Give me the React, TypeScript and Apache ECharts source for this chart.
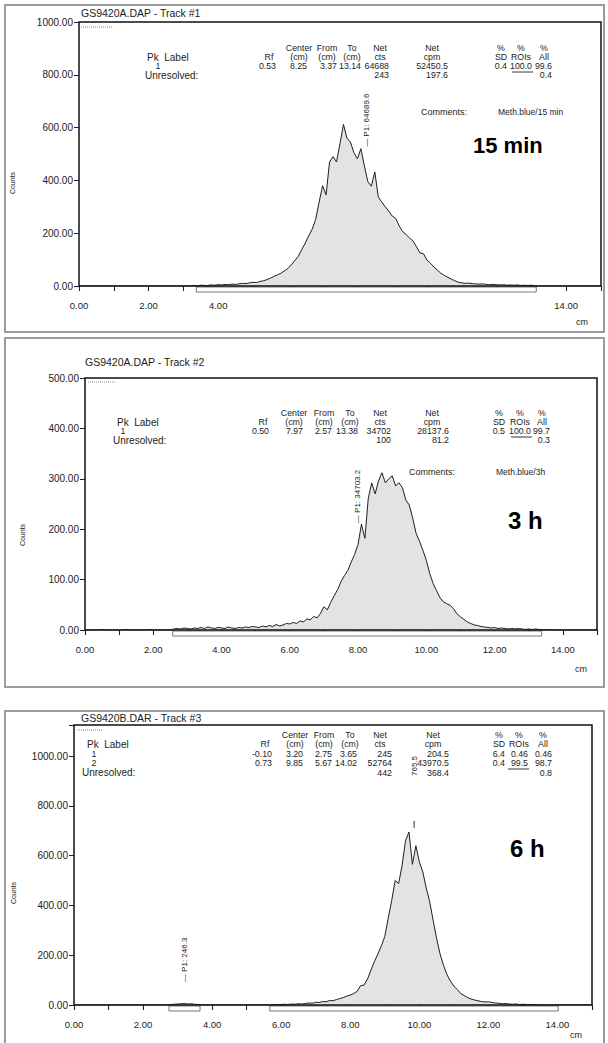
import React, { useEffect, useRef } from "react";
import * as echarts from "echarts";

const FONT = '"Liberation Sans", Arial, Helvetica, sans-serif';
const BIN_STEP_CM = 0.1;

// Counts per 0.1 cm bin, 0.0 ... 15.0 cm
const counts15min = [
  0, 0, 0, 0, 0, 0, 0, 0, 0, 0, // 0.0
  0, 0, 0, 0, 0, 0, 0, 0, 0, 0, // 1.0
  0, 0, 0, 0, 0, 0, 0, 0, 0, 0, // 2.0
  0, 0, 0, 2, 1, 3, 2, 2, 4, 3, // 3.0
  5, 4, 6, 5, 7, 6, 8, 10, 9, 12, // 4.0
  14, 13, 17, 20, 24, 30, 36, 42, 48, 57, // 5.0
  66, 80, 96, 112, 138, 162, 190, 215, 252, 318, // 6.0
  380, 345, 470, 490, 470, 540, 612, 560, 545, 505, // 7.0
  482, 520, 455, 395, 378, 432, 338, 318, 300, 284, // 8.0
  265, 256, 228, 206, 195, 182, 170, 148, 125, 122, // 9.0
  98, 86, 72, 60, 48, 40, 33, 26, 20, 14, // 10.0
  12, 10, 11, 9, 8, 7, 8, 6, 5, 6, // 11.0
  5, 4, 5, 3, 4, 3, 4, 2, 3, 2, // 12.0
  3, 1, 0, 0, 0, 0, 0, 0, 0, 0, // 13.0
  0, 0, 0, 0, 0, 0, 0, 0, 0, 0, // 14.0
  0,
];

const counts3h = [
  0, 0, 0, 0, 0, 1, 0, 0, 0, 0, // 0.0
  0, 0, 1, 0, 0, 0, 0, 0, 0, 1, // 1.0
  0, 0, 0, 0, 0, 0, 2, 3, 2, 4, // 2.0
  3, 2, 4, 3, 5, 3, 6, 4, 3, 5, // 3.0
  4, 3, 6, 4, 3, 5, 4, 6, 5, 7, // 4.0
  6, 5, 8, 6, 9, 7, 11, 8, 10, 13, // 5.0
  12, 15, 13, 18, 16, 22, 20, 27, 24, 33, // 6.0
  46, 40, 55, 68, 80, 96, 108, 118, 135, 150, // 7.0
  170, 210, 182, 262, 292, 270, 296, 312, 292, 300, // 8.0
  306, 286, 292, 282, 258, 248, 222, 192, 176, 158, // 9.0
  138, 112, 92, 78, 64, 56, 52, 49, 42, 32, // 10.0
  26, 21, 16, 13, 10, 9, 7, 6, 5, 4, // 11.0
  5, 3, 4, 3, 2, 3, 2, 3, 2, 1, // 12.0
  2, 1, 2, 1, 1, 0, 1, 0, 0, 0, // 13.0
  0, 0, 0, 0, 0, 0, 0, 0, 0, 0, // 14.0
  0,
];

const counts6h = [
  0, 0, 0, 0, 0, 0, 0, 0, 0, 0, // 0.0
  0, 0, 0, 0, 0, 0, 0, 0, 0, 0, // 1.0
  0, 0, 0, 0, 0, 0, 0, 0, 2, 3, // 2.0
  4, 5, 6, 4, 5, 3, 2, 0, 0, 0, // 3.0
  0, 0, 0, 0, 0, 0, 0, 0, 0, 0, // 4.0
  0, 0, 0, 0, 0, 0, 0, 1, 2, 1, // 5.0
  2, 3, 2, 4, 3, 5, 4, 6, 8, 7, // 6.0
  11, 10, 14, 13, 18, 17, 22, 26, 30, 36, // 7.0
  40, 46, 55, 78, 80, 105, 140, 175, 205, 238, // 8.0
  275, 350, 420, 500, 488, 560, 660, 695, 565, 640, // 9.0
  575, 535, 470, 415, 340, 268, 205, 160, 122, 96, // 10.0
  76, 62, 46, 38, 30, 24, 20, 17, 14, 12, // 11.0
  13, 10, 8, 7, 5, 6, 4, 3, 4, 2, // 12.0
  3, 2, 1, 2, 1, 0, 0, 0, 0, 0, // 13.0
  0, 0, 0, 0, 0, 0, 0, 0, 0, 0, // 14.0
  0,
];

const xLabels15min = [0, 2, 4, 14];
const xLabelsAll = [0, 2, 4, 6, 8, 10, 12, 14];

// Regions of interest (from, to) in cm
const roi15min = [[3.37, 13.14]];
const roi3h = [[2.57, 13.38]];
const roi6h = [[2.75, 3.65], [5.67, 14.02]];

// Peak annotations: centre (cm), anchor count, text
const peakX15min = [8.25];
const peakAnchor15min = [527];
const peakText15min = ["— P1: 64689.6"];
const peakX3h = [7.97];
const peakAnchor3h = [212];
const peakText3h = ["— P1: 34703.2"];
const peakX6h = [3.2, 9.85];
const peakAnchor6h = [92, 920];
const peakText6h = ["— P1: 246.3", "765.5"];

// Table content
const headTop = ["", "Center", "From", "To", "Net", "Net", "%", "%", "%"];
const headBottom = ["Rf", "(cm)", "(cm)", "(cm)", "cts", "cpm", "SD", "ROIs", "All"];
const rows15min = [["1", "0.53", "8.25", "3.37", "13.14", "64688", "52450.5", "0.4", "100.0", "99.6"]];
const unres15min = ["243", "197.6", "0.4"];
const rows3h = [["1", "0.50", "7.97", "2.57", "13.38", "34702", "28137.6", "0.5", "100.0", "99.7"]];
const unres3h = ["100", "81.2", "0.3"];
const rows6h = [
  ["1", "-0.10", "3.20", "2.75", "3.65", "245", "204.5", "6.4", "0.46", "0.46"],
  ["2", "0.73", "9.85", "5.67", "14.02", "52764", "43970.5", "0.4", "99.5", "98.7"],
];
const unres6h = ["442", "368.4", "0.8"];

const panels = [
  {
    counts: counts15min, xLabels: xLabels15min, roi: roi15min,
    peakX: peakX15min, peakAnchor: peakAnchor15min, peakText: peakText15min, peakTick: false,
    rows: rows15min, unres: unres15min, underlineRow: 0,
    title: "GS9420A.DAP - Track #1", comment: "Meth.blue/15 min", big: "15 min",
    grid: { left: 79, top: 22, width: 522, height: 264 },
    yMax: 1000, yInt: 200, yLabelMax: 1000,
    frame: [5, 5, 599, 327],
    titleXY: [81, 13], marker: [81, 27, 112], countsXY: [12, 183], cmXY: [576, 322],
    rowY: [48, 57, 66], unresY: 75, pkX: 147, idX: 158, unresX: 145,
    colC: [269, 299, 327, 352, 380, 432, 501, 521, 544],
    colR: [276, 307, 337, 361, 389, 448, 507, 532, 552],
    commentXY: [421, 112, 498], bigXY: [473, 145], bigSize: 22,
  },
  {
    counts: counts3h, xLabels: xLabelsAll, roi: roi3h,
    peakX: peakX3h, peakAnchor: peakAnchor3h, peakText: peakText3h, peakTick: false,
    rows: rows3h, unres: unres3h, underlineRow: 0,
    title: "GS9420A.DAP - Track #2", comment: "Meth.blue/3h", big: "3 h",
    grid: { left: 85, top: 378, width: 512, height: 252 },
    yMax: 500, yInt: 100, yLabelMax: 500,
    frame: [5, 338, 599, 349],
    titleXY: [85, 362], marker: [88, 382, 115], countsXY: [22, 535], cmXY: [575, 669],
    rowY: [413, 422, 431], unresY: 440, pkX: 117, idX: 123, unresX: 113,
    colC: [263, 294, 324, 350, 380, 432, 499, 520, 542],
    colR: [269, 303, 332, 358, 391, 449, 505, 531, 550],
    commentXY: [409, 472, 496], bigXY: [508, 520], bigSize: 24,
  },
  {
    counts: counts6h, xLabels: xLabelsAll, roi: roi6h,
    peakX: peakX6h, peakAnchor: peakAnchor6h, peakText: peakText6h, peakTick: true,
    rows: rows6h, unres: unres6h, underlineRow: 1,
    title: "GS9420B.DAR - Track #3", comment: "", big: "6 h",
    grid: { left: 74, top: 725, width: 518, height: 280 },
    yMax: 1125, yInt: 200, yLabelMax: 1000,
    frame: [5, 711, 599, 340],
    titleXY: [81, 718], marker: [77, 730, 103], countsXY: [13, 893], cmXY: [570, 1035],
    rowY: [735, 744, 753.5, 763], unresY: 772.5, pkX: 87, idX: 94, unresX: 82,
    colC: [265, 295, 324, 350, 380, 433, 499, 519, 543],
    colR: [272, 303, 332, 357, 392, 449, 505, 528, 552],
    commentXY: null, bigXY: [510, 848], bigSize: 24,
  },
];

function txt(x: number, y: number, t: string, o: any = {}) {
  return {
    type: "text",
    x,
    y,
    silent: true,
    z: 50,
    rotation: o.rot || 0,
    style: {
      text: t,
      fill: o.color || "#1c1c1c",
      fontSize: o.size || 8.8,
      fontFamily: FONT,
      fontWeight: o.bold ? "bold" : "normal",
      align: o.align || "left",
      verticalAlign: "middle",
    },
  };
}

function buildOption() {
  const grid: any[] = [];
  const xAxis: any[] = [];
  const yAxis: any[] = [];
  const series: any[] = [];
  const graphic: any[] = [];

  panels.forEach((p, i) => {
    grid.push({ ...p.grid, show: false });
    xAxis.push({
      type: "value",
      gridIndex: i,
      min: 0,
      max: 15,
      interval: 1,
      offset: 5,
      axisLine: { show: false },
      axisTick: { show: true, length: 5, lineStyle: { color: "#222", width: 1.1 } },
      splitLine: { show: false },
      axisLabel: {
        margin: 9,
        fontSize: 9.5,
        color: "#1c1c1c",
        fontFamily: FONT,
        formatter: (v: number) => (p.xLabels.includes(v) ? v.toFixed(2) : ""),
      },
    });
    yAxis.push({
      type: "value",
      gridIndex: i,
      min: 0,
      max: p.yMax,
      interval: p.yInt,
      axisLine: { show: false },
      axisTick: { show: true, length: 5, lineStyle: { color: "#222", width: 1 } },
      splitLine: { show: false },
      axisLabel: {
        margin: 6,
        fontSize: 10,
        color: "#1c1c1c",
        fontFamily: FONT,
        verticalAlign: "middle",
        formatter: (v: number) => (v % p.yInt === 0 && v <= p.yLabelMax ? v.toFixed(2) : ""),
      },
    });
    series.push({
      type: "line",
      xAxisIndex: i,
      yAxisIndex: i,
      data: p.counts.map((c, j) => [+(j * BIN_STEP_CM).toFixed(1), c]),
      showSymbol: false,
      symbol: "none",
      silent: true,
      z: 2,
      lineStyle: { color: "#1e1e1e", width: 1 },
      areaStyle: { color: "#e3e3e3", opacity: 1 },
    });
    series.push({
      type: "custom",
      xAxisIndex: i,
      yAxisIndex: i,
      clip: false,
      silent: true,
      z: 3,
      data: p.roi,
      encode: { x: [0, 1] },
      renderItem: (_params: any, api: any) => {
        const a = api.coord([api.value(0), 0]);
        const b = api.coord([api.value(1), 0]);
        return {
          type: "rect",
          shape: { x: a[0], y: a[1] + 1, width: b[0] - a[0], height: 5 },
          style: { fill: "#fff", stroke: "#555", lineWidth: 0.8 },
        };
      },
    });
    series.push({
      type: "custom",
      xAxisIndex: i,
      yAxisIndex: i,
      clip: false,
      silent: true,
      z: 4,
      data: p.peakX.map((x, k) => [x, p.peakAnchor[k]]),
      renderItem: (params: any, api: any) => {
        const pt = api.coord([api.value(0), api.value(1)]);
        const k = params.dataIndex;
        const children: any[] = [
          {
            type: "text",
            x: pt[0],
            y: pt[1],
            rotation: Math.PI / 2,
            style: {
              text: p.peakText[k],
              fill: "#1c1c1c",
              fontSize: 8,
              fontFamily: FONT,
              align: "left",
              verticalAlign: "middle",
            },
          },
        ];
        if (p.peakTick && k === 1) {
          const t0 = api.coord([api.value(0), 712]);
          const t1 = api.coord([api.value(0), 740]);
          children.push({
            type: "line",
            shape: { x1: t0[0], y1: t0[1], x2: t1[0], y2: t1[1] },
            style: { stroke: "#333", lineWidth: 1 },
          });
        }
        return { type: "group", children };
      },
    });

    // panel frame
    graphic.push({
      type: "rect",
      silent: true,
      z: 1,
      shape: { x: p.frame[0], y: p.frame[1], width: p.frame[2], height: p.frame[3] },
      style: { fill: "none", stroke: "#9c9c9c", lineWidth: 2 },
    });
    // plot frame
    graphic.push({
      type: "rect",
      silent: true,
      z: 60,
      shape: { x: p.grid.left, y: p.grid.top, width: p.grid.width, height: p.grid.height },
      style: { fill: "none", stroke: "#111", lineWidth: 1.5 },
    });
    // dotted marker
    graphic.push({
      type: "line",
      silent: true,
      z: 55,
      shape: { x1: p.marker[0], y1: p.marker[1], x2: p.marker[2], y2: p.marker[1] },
      style: { stroke: "#8a8a8a", lineWidth: 1, lineDash: [1, 1] },
    });
    graphic.push(txt(p.titleXY[0], p.titleXY[1], p.title, { size: 10.5 }));
    graphic.push(txt(p.countsXY[0], p.countsXY[1], "Counts", { size: 7, rot: Math.PI / 2, align: "center" }));
    graphic.push(txt(p.cmXY[0], p.cmXY[1], "cm", { size: 9 }));

    // table
    headTop.forEach((h, c) => {
      if (h) graphic.push(txt(p.colC[c], p.rowY[0], h, { align: "center" }));
    });
    graphic.push(txt(p.pkX, p.rowY[1], "Pk  Label", { size: 10 }));
    headBottom.forEach((h, c) => {
      graphic.push(txt(p.colC[c], p.rowY[1], h, { align: "center" }));
    });
    p.rows.forEach((r, ri) => {
      const y = p.rowY[2 + ri];
      graphic.push(txt(p.idX, y, r[0], { align: "center", size: 8.8 }));
      r.slice(1).forEach((v, c) => {
        graphic.push(txt(p.colR[c], y, v, { align: "right" }));
      });
      if (ri === p.underlineRow) {
        graphic.push({
          type: "line",
          silent: true,
          z: 55,
          shape: { x1: p.colR[7] - 20, y1: y + 6, x2: p.colR[7] + 1, y2: y + 6 },
          style: { stroke: "#222", lineWidth: 0.9 },
        });
      }
    });
    graphic.push(txt(p.unresX, p.unresY, "Unresolved:", { size: 10 }));
    graphic.push(txt(p.colR[4], p.unresY, p.unres[0], { align: "right" }));
    graphic.push(txt(p.colR[5], p.unresY, p.unres[1], { align: "right" }));
    graphic.push(txt(p.colR[8], p.unresY, p.unres[2], { align: "right" }));

    if (p.commentXY) {
      graphic.push(txt(p.commentXY[0], p.commentXY[1], "Comments:", { size: 9 }));
      graphic.push(txt(p.commentXY[2], p.commentXY[1], p.comment, { size: 8.5 }));
    }
    graphic.push(txt(p.bigXY[0], p.bigXY[1], p.big, { size: p.bigSize, bold: true, color: "#000" }));
  });

  return {
    animation: false,
    backgroundColor: "#ffffff",
    grid,
    xAxis,
    yAxis,
    series,
    graphic,
  };
}

export default function App() {
  const ref = useRef<HTMLDivElement>(null);
  useEffect(() => {
    document.body.style.margin = "0";
    document.body.style.background = "#fff";
    if (!ref.current) return;
    const chart = echarts.init(ref.current, undefined, { renderer: "svg" });
    chart.setOption(buildOption() as any);
    return () => {
      chart.dispose();
    };
  }, []);
  return <div ref={ref} style={{ width: 608, height: 1043 }} />;
}
